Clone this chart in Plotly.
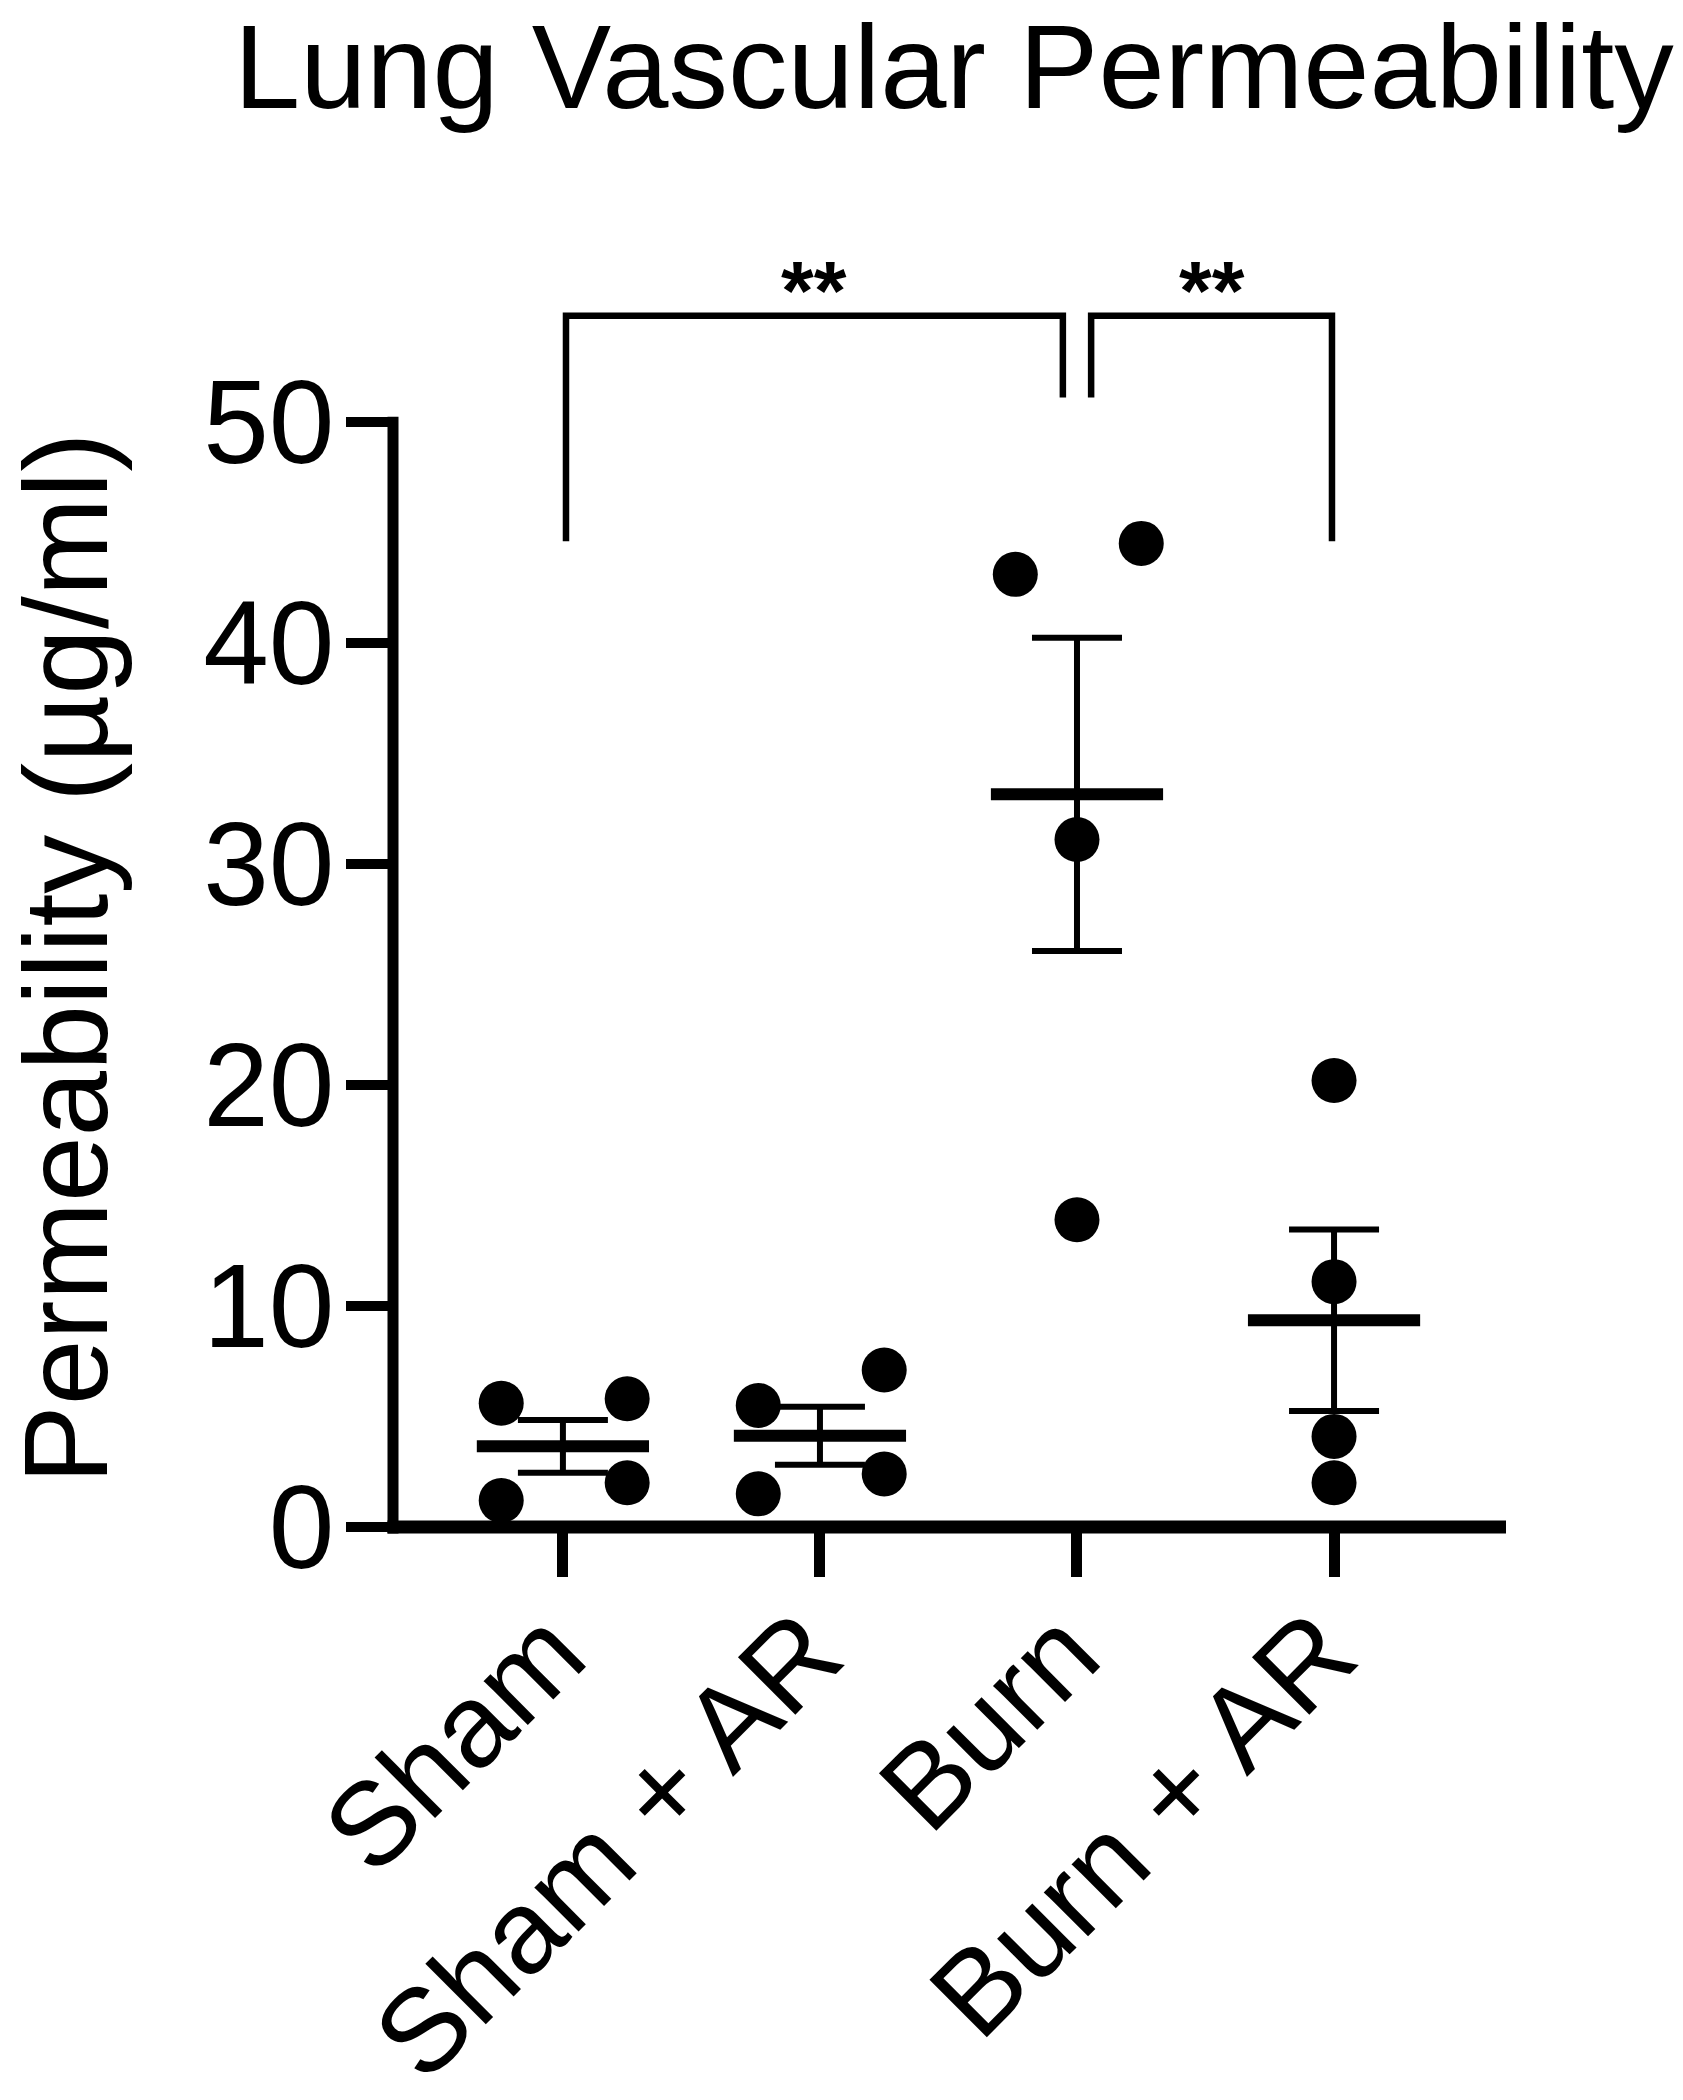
import numpy as np
import plotly.graph_objects as go

# ---------------- data ----------------
categories = ["Sham", "Sham + AR", "Burn", "Burn + AR"]
sham = [5.6, 5.8, 1.2, 2.0]
sham_ar = [5.5, 7.1, 1.5, 2.4]
burn = [43.1, 44.5, 31.1, 13.9]
burn_ar = [20.2, 11.1, 4.1, 2.0]
groups = [sham, sham_ar, burn, burn_ar]

# horizontal spread of the dots within each column (category units)
sham_spread = [-0.24, 0.25, -0.24, 0.25]
sham_ar_spread = [-0.24, 0.25, -0.24, 0.25]
burn_spread = [-0.24, 0.25, 0.0, 0.0]
burn_ar_spread = [0.0, 0.0, 0.0, 0.0]
spreads = [sham_spread, sham_ar_spread, burn_spread, burn_ar_spread]

y_ticks = [0, 10, 20, 30, 40, 50]
# significance comparisons: (left group, right group, label)
comparisons = [(0, 2, "**"), (2, 3, "**")]

title_text = "Lung Vascular Permeability"
y_title = "Permeability (µg/ml)"

# ---------------- style / layout ----------------
W, H = 1683, 2100
BODY = 8                      # default page margin of the html body
PLOT_L, PLOT_T = 393, 245     # on-screen position of the plot area
PLOT_W, PLOT_H = 1113, 1282
ML, MT = PLOT_L - BODY, PLOT_T - BODY
MR = W - ML - PLOT_W
MB = H - MT - PLOT_H
X_RANGE = [-0.661, 3.669]
Y_RANGE = [0, 58]
FONT = "Liberation Sans, Arial, Helvetica, sans-serif"
BLACK = "#000000"


def px_to_paper_x(px):
    return (px - PLOT_L) / PLOT_W


def px_to_paper_y(py):
    return (PLOT_T + PLOT_H - py) / PLOT_H


fig = go.Figure()

# mean + SEM
for i, vals in enumerate(groups):
    arr = np.array(vals, dtype=float)
    mean = arr.mean()
    sem = arr.std(ddof=1) / np.sqrt(len(arr))
    fig.add_trace(go.Scatter(
        x=[i], y=[mean], mode="markers",
        marker=dict(symbol="line-ew", size=123, color=BLACK,
                    line=dict(width=12, color=BLACK)),
        error_y=dict(type="data", array=[sem], symmetric=True,
                     width=45, thickness=6, color=BLACK),
        showlegend=False, hoverinfo="skip", cliponaxis=False,
    ))

# individual points
for i, (vals, sp) in enumerate(zip(groups, spreads)):
    fig.add_trace(go.Scatter(
        x=[i + s for s in sp], y=vals, mode="markers",
        marker=dict(symbol="circle", size=45, color=BLACK,
                    line=dict(width=0)),
        showlegend=False, cliponaxis=False,
    ))

# significance brackets
top_y = 54.8
long_leg = 44.6
short_leg = 51.1
shared_gap = 0.055
star_y = 55.9
shared = {2}
for a, b, lab in comparisons:
    xa = a + (shared_gap if a in shared else 0.012)
    xb = b - (shared_gap if b in shared else 0.008)
    ya = short_leg if a in shared else long_leg
    yb = short_leg if b in shared else long_leg
    fig.add_shape(type="path",
                  path=f"M {xa},{ya} L {xa},{top_y} L {xb},{top_y} L {xb},{yb}",
                  xref="x", yref="y",
                  line=dict(color=BLACK, width=6.5))
    fig.add_annotation(x=(xa + xb) / 2, y=star_y, xref="x", yref="y",
                       text=f"<b>{lab}</b>", showarrow=False,
                       font=dict(family=FONT, size=84, color=BLACK),
                       xanchor="center", yanchor="middle")

# axis lines drawn as shapes (y axis ends at 50)
y50_paper = (50 - Y_RANGE[0]) / (Y_RANGE[1] - Y_RANGE[0])
fig.add_shape(type="line", xref="paper", yref="paper",
              x0=0, x1=0, y0=-6.5 / PLOT_H, y1=y50_paper + 5 / PLOT_H,
              line=dict(color=BLACK, width=11))
fig.add_shape(type="line", xref="paper", yref="paper",
              x0=-5.5 / PLOT_W, x1=1, y0=0, y1=0,
              line=dict(color=BLACK, width=13))

# title and y-axis title
fig.add_annotation(x=px_to_paper_x(954), y=px_to_paper_y(66),
                   xref="paper", yref="paper", text=title_text,
                   showarrow=False, xanchor="center", yanchor="middle",
                   font=dict(family=FONT, size=119, color=BLACK))
fig.add_annotation(x=px_to_paper_x(66), y=px_to_paper_y(958),
                   xref="paper", yref="paper", text=y_title,
                   showarrow=False, textangle=-90,
                   xanchor="center", yanchor="middle",
                   font=dict(family=FONT, size=118, color=BLACK))

fig.update_layout(
    width=W, height=H,
    margin=dict(l=ML, r=MR, t=MT, b=MB, pad=0, autoexpand=False),
    paper_bgcolor="white", plot_bgcolor="white",
    font=dict(family=FONT, color=BLACK),
    xaxis=dict(range=X_RANGE, tickvals=list(range(len(categories))),
               ticktext=categories, tickangle=-45, automargin=False,
               ticks="outside", ticklen=49, tickwidth=11, tickcolor=BLACK,
               ticklabelstandoff=-40, ticklabelshift=-13,
               showline=False, showgrid=False, zeroline=False,
               tickfont=dict(family=FONT, size=118, color=BLACK)),
    yaxis=dict(range=Y_RANGE, tickvals=y_ticks, automargin=False,
               ticks="outside", ticklen=46, tickwidth=10, tickcolor=BLACK,
               ticklabelstandoff=-12,
               showline=False, showgrid=False, zeroline=False,
               tickfont=dict(family=FONT, size=118, color=BLACK)),
)

fig.write_html("out.html")
